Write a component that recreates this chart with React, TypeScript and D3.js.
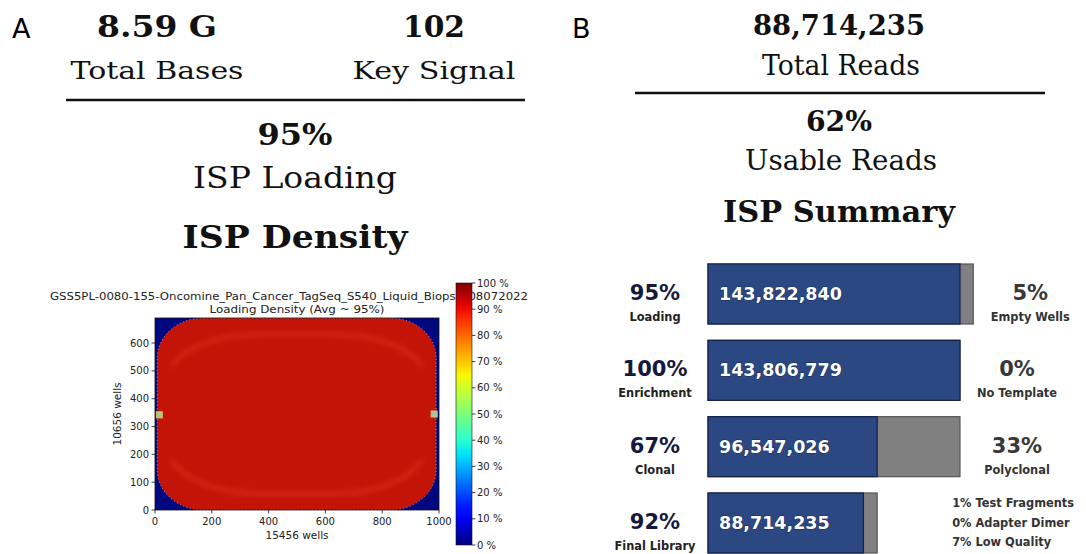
import * as d3 from "d3";

// panel A headline numbers
const headValues = ["8.59 G", "102"];
const headLabels = ["Total Bases", "Key Signal"];
const loadingPct = "95%";
const loadingLabel = "ISP Loading";
const densityTitle = "ISP Density";

// heatmap axes
const chipTitle = "GSS5PL-0080-155-Oncomine_Pan_Cancer_TagSeq_S540_Liquid_Biopsy_08072022";
const chipSubtitle = "Loading Density (Avg ~ 95%)";
const xTicks = [0, 200, 400, 600, 800, 1000];
const yTicks = [0, 100, 200, 300, 400, 500, 600];
const cbTicks = [0, 10, 20, 30, 40, 50, 60, 70, 80, 90, 100];
const chipExtentX = [8, 990];
const chipExtentY = [0, 690];
const edgeSpots = [
  { x: 15, y: 342 },
  { x: 983, y: 345 },
];

// panel B
const totalReads = "88,714,235";
const usablePct = "62%";
const rowLabels = ["Loading", "Enrichment", "Clonal", "Final Library"];
const rowPct = [95, 100, 67, 92];
const rowCounts = [143822840, 143806779, 96547026, 88714235];
const rowTotals = [151392000, 143822840, 143806779, 96547026];
const restPct = [5, 0, 33];
const restLabels = ["Empty Wells", "No Template", "Polyclonal"];
const finalPct = [1, 0, 7];
const finalLabels = ["Test Fragments", "Adapter Dimer", "Low Quality"];

// matplotlib jet
const jetR = d3.scaleLinear().domain([0, 0.35, 0.66, 0.89, 1]).range([0, 0, 1, 1, 0.5]).clamp(true);
const jetG = d3.scaleLinear().domain([0, 0.125, 0.375, 0.64, 0.91, 1]).range([0, 0, 1, 1, 0, 0]).clamp(true);
const jetB = d3.scaleLinear().domain([0, 0.11, 0.34, 0.65, 1]).range([0.5, 1, 1, 0, 0]).clamp(true);
const jet = (t: number) => d3.rgb(jetR(t) * 255, jetG(t) * 255, jetB(t) * 255).toString();

const SERIF = "'DejaVu Serif', serif";
const SANS = "'DejaVu Sans', sans-serif";

function Stretch({ x, y, text, size, width, bold = false, font = SERIF, fill = "#111" }: any) {
  return (
    <text
      x={x - width / 2}
      y={y}
      fontFamily={font}
      fontSize={size}
      fontWeight={bold ? "bold" : "normal"}
      textLength={width}
      lengthAdjust="spacingAndGlyphs"
      fill={fill}
    >
      {text}
    </text>
  );
}

function PanelA() {
  const x = d3.scaleLinear().domain([0, 1000]).range([155, 439]);
  const y = d3.scaleLinear().domain([0, 690]).range([510, 318]);
  const cb = d3.scaleLinear().domain([0, 100]).range([545, 283]);

  const cx0 = x(chipExtentX[0]), cx1 = x(chipExtentX[1]);
  const cy0 = y(chipExtentY[1]), cy1 = y(chipExtentY[0]);
  const rx = 46, ry = 40;
  const chipPath = `M${cx0 + rx},${cy0} L${cx1 - rx},${cy0} A${rx},${ry} 0 0 1 ${cx1},${cy0 + ry}
    L${cx1},${cy1 - ry} A${rx},${ry} 0 0 1 ${cx1 - rx},${cy1} L${cx0 + rx},${cy1}
    A${rx},${ry} 0 0 1 ${cx0},${cy1 - ry} L${cx0},${cy0 + ry} A${rx},${ry} 0 0 1 ${cx0 + rx},${cy0} Z`;

  // faint brighter bands that follow the top and bottom of the chip
  const topBand = `M${cx0 + 14},${cy0 + 48} Q${cx0 + 40},${cy0 + 14} ${cx0 + 120},${cy0 + 16} L${cx1 - 120},${cy0 + 16} Q${cx1 - 40},${cy0 + 14} ${cx1 - 14},${cy0 + 48}`;
  const botBand = `M${cx0 + 14},${cy1 - 50} Q${cx0 + 40},${cy1 - 14} ${cx0 + 120},${cy1 - 16} L${cx1 - 120},${cy1 - 16} Q${cx1 - 40},${cy1 - 14} ${cx1 - 14},${cy1 - 50}`;

  const gradStops = d3.range(0, 1.0001, 0.05);

  return (
    <g>
      <text x={12} y={38} fontFamily={SANS} fontSize={27}>A</text>
      <Stretch x={157} y={37} text={headValues[0]} size={30} width={120} bold />
      <Stretch x={434} y={37} text={headValues[1]} size={30} width={62} bold />
      <Stretch x={157} y={79} text={headLabels[0]} size={25} width={173} />
      <Stretch x={434} y={79} text={headLabels[1]} size={25} width={163} />
      <line x1={66} x2={525} y1={100} y2={100} stroke="#111" strokeWidth={2.5} />
      <Stretch x={295} y={145} text={loadingPct} size={29} width={75} bold />
      <Stretch x={295} y={188} text={loadingLabel} size={29} width={204} />
      <Stretch x={295} y={248} text={densityTitle} size={31} width={225} bold />

      {/* heatmap */}
      <Stretch x={289} y={300} text={chipTitle} size={11} width={478} font={SANS} fill="#222" />
      <Stretch x={297} y={313} text={chipSubtitle} size={11} width={175} font={SANS} fill="#222" />
      <defs>
        <clipPath id="plotClip">
          <rect x={155} y={318} width={284} height={192} />
        </clipPath>
        <linearGradient id="jet" x1="0" y1="1" x2="0" y2="0">
          {gradStops.map((t) => (
            <stop key={t} offset={t} stopColor={jet(t)} />
          ))}
        </linearGradient>
        <filter id="soft"><feGaussianBlur stdDeviation="2.5" /></filter>
      </defs>
      <rect x={155} y={318} width={284} height={192} fill="#00087f" />
      <g clipPath="url(#plotClip)">
        <path d={chipPath} fill="#c41408" stroke="#f0b0a0" strokeWidth={0.8} strokeDasharray="1 2.5" />
        <path d={topBand} fill="none" stroke="#e8482a" strokeWidth={5} opacity={0.35} filter="url(#soft)" />
        <path d={botBand} fill="none" stroke="#e8482a" strokeWidth={5} opacity={0.35} filter="url(#soft)" />
        {edgeSpots.map((s, i) => (
          <rect key={i} x={x(s.x) - 3} y={y(s.y) - 3} width={6} height={6} fill="#9fc8a0" stroke="#e8c060" strokeWidth={1} />
        ))}
      </g>
      <rect x={155} y={318} width={284} height={192} fill="none" stroke="#111" strokeWidth={0.8} />
      {xTicks.map((t) => (
        <g key={t}>
          <line x1={x(t)} x2={x(t)} y1={510} y2={513.5} stroke="#111" strokeWidth={0.8} />
          <text x={x(t)} y={525} textAnchor="middle" fontFamily={SANS} fontSize={10} fill="#222">{t}</text>
        </g>
      ))}
      {yTicks.map((t) => (
        <g key={t}>
          <line x1={151.5} x2={155} y1={y(t)} y2={y(t)} stroke="#111" strokeWidth={0.8} />
          <text x={149} y={y(t) + 3.5} textAnchor="end" fontFamily={SANS} fontSize={10} fill="#222">{t}</text>
        </g>
      ))}
      <text x={297} y={539} textAnchor="middle" fontFamily={SANS} fontSize={10.5} fill="#222">15456 wells</text>
      <text transform={`translate(121,${414}) rotate(-90)`} textAnchor="middle" fontFamily={SANS} fontSize={10.5} fill="#222">10656 wells</text>

      {/* colorbar */}
      <rect x={456} y={283} width={16} height={262} fill="url(#jet)" stroke="#111" strokeWidth={0.6} />
      {cbTicks.map((t) => (
        <g key={t}>
          <line x1={472} x2={475.5} y1={cb(t)} y2={cb(t)} stroke="#111" strokeWidth={0.8} />
          <text x={477} y={cb(t) + 3.5} fontFamily={SANS} fontSize={10} fill="#222">{`${t} %`}</text>
        </g>
      ))}
    </g>
  );
}

function PanelB() {
  const bx = d3.scaleLinear().domain([0, rowTotals[1]]).range([708, 960]);
  const by = d3.scaleBand<number>().domain(d3.range(rowLabels.length)).range([264, 553]).paddingInner(0.214);
  const bh = by.bandwidth();

  return (
    <g>
      <text x={572} y={38} fontFamily={SANS} fontSize={27}>B</text>
      <Stretch x={839} y={35} text={totalReads} size={28} width={172} bold />
      <Stretch x={841} y={75} text="Total Reads" size={27} width={158} />
      <line x1={635} x2={1045} y1={93} y2={93} stroke="#111" strokeWidth={2.5} />
      <Stretch x={839} y={131} text={usablePct} size={28} width={66} bold />
      <Stretch x={841} y={170} text="Usable Reads" size={27} width={192} />
      <Stretch x={839} y={222} text="ISP Summary" size={30} width={232} bold />

      {rowLabels.map((lab, i) => {
        const top = by(i) as number;
        const end = bx(rowTotals[i]);
        return (
          <g key={lab}>
            <rect x={bx(0)} y={top} width={end - bx(0)} height={bh} fill="#808080" stroke="#555" strokeWidth={1.2} />
            <rect x={bx(0)} y={top} width={bx(rowCounts[i]) - bx(0)} height={bh} fill="#2c4883" stroke="#14214a" strokeWidth={1.2} />
            <text x={719} y={top + 36} fontFamily={SANS} fontWeight="bold" fontSize={17.5} fill="#fff"
              style={{ paintOrder: "stroke" }} stroke="#1a2a55" strokeWidth={1}>
              {d3.format(",")(rowCounts[i])}
            </text>
            <text x={655} y={top + 36} textAnchor="middle" fontFamily={SANS} fontWeight="bold" fontSize={21} fill="#15193f">
              {`${rowPct[i]}%`}
            </text>
            <text x={655} y={top + 57} textAnchor="middle" fontFamily={SANS} fontWeight="bold" fontSize={11.4} fill="#222">
              {lab}
            </text>
            {i < restLabels.length && (
              <g>
                <text x={end + 57} y={top + 36} textAnchor="middle" fontFamily={SANS} fontWeight="bold" fontSize={21} fill="#383838">
                  {`${restPct[i]}%`}
                </text>
                <text x={end + 57} y={top + 57} textAnchor="middle" fontFamily={SANS} fontWeight="bold" fontSize={11.4} fill="#333">
                  {restLabels[i]}
                </text>
              </g>
            )}
            {i === rowLabels.length - 1 &&
              finalLabels.map((f, j) => (
                <text key={f} x={end + 75} y={top + 14 + j * 19.5} fontFamily={SANS} fontWeight="bold" fontSize={11.4} fill="#333">
                  {`${finalPct[j]}% ${f}`}
                </text>
              ))}
          </g>
        );
      })}
    </g>
  );
}

export default function App() {
  return (
    <svg width={1086} height={554} style={{ position: "absolute", left: 0, top: 0, background: "#fff" }}>
      <PanelA />
      <PanelB />
    </svg>
  );
}
